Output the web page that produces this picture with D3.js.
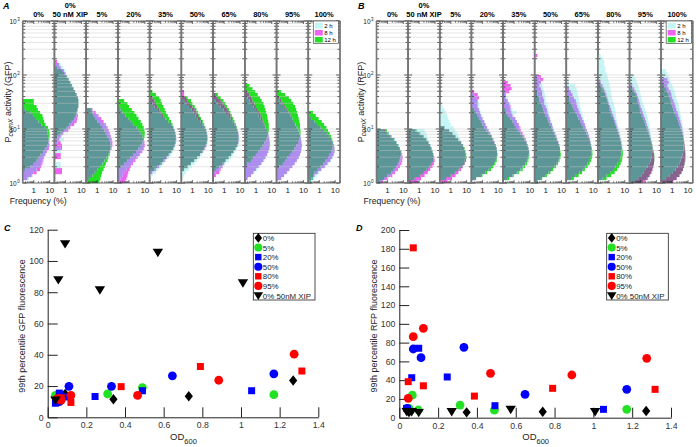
<!DOCTYPE html>
<html><head><meta charset="utf-8">
<script src="https://cdn.jsdelivr.net/npm/d3@7"></script>
<style>body{margin:0;background:#fff}svg{display:block}text{font-family:"Liberation Sans",Arial,sans-serif}</style>
</head><body><svg id="c" width="696" height="447"></svg>
<script>
// ---------- DATA ----------
const conditionTitles = [["0%"],["0%","50 nM XIP"],["5%"],["20%"],["35%"],["50%"],["65%"],["80%"],["95%"],["100%"]];
const timeLabels = ["2 h","8 h","12 h"];
const binsPerDecade = 18;           // histogram bins, starting at 10^0
const freqTickLabels = [1, 10];
const decadeExponents = [0, 1, 2, 3];

// GFP histograms (frequency %, one list per condition, bin 0 = 10^0)
const gfp2h = [
 [0,0.5,0.7,1,1.5,2.5,3,3.5,4,5,6.5,8,9.5,9,8.5,8,7.5,7,5,3,2,1.4,1,0.6,0.3],
 [0,0,0,0,0,0.5,0.5,0,0,0,0.5,0.5,0,0.3,0.8,0.6,0.8,1.2,1.6,2.5,3.5,4.5,5,5.5,6,6.5,6.5,6.8,6.2,5.2,4.2,3.4,2.8,2.2,1.8,1.4,1.1,1,0.7,0.5,0],
 [0.2,0.3,0.5,0.7,1,1.5,2.2,3,4,5,6,7.5,8.5,8.5,8,7,6,5,4,3,2,1.5,1,0.6,0.4],
 [0.2,0.3,0.4,0.5,0.7,1,1.4,2,3,4.5,6.5,8,9,9,8.5,7,5.5,4.2,3,2,1.3,0.9,0.6,0.4,0.3,0.2],
 [0,0,0.3,0.5,0.7,1,1.5,2.2,3.2,4.5,6,7.5,8.5,9.5,10,9.5,8.5,7.5,6,4.5,3,2,1.2,0.8,0.6,0.4,0.3,0.2],
 [0,0,0.3,0.4,0.6,0.9,1.4,2,3,4,5.5,7,8,9,9.5,9,8.5,7.5,6,4.5,3.2,2.2,1.6,1.2,0.9,0.6,0.4,0.3,0.2],
 [0,0,0.2,0.3,0.5,0.8,1.2,2,2.8,3.8,5,6.5,8,9,9.5,9,8,7,6,4.5,3.5,2.5,1.8,1.3,0.9,0.6,0.4,0.3,0.2],
 [0,0.3,0.5,0.8,1.2,1.8,2.5,3.5,4.5,5.5,6.5,7.5,8,8,7.5,7,6,5,4,3.2,2.5,2,1.5,1.2,0.9,0.7,0.5,0.4,0.3,0.2],
 [0.2,0.4,0.6,1,1.4,2,3,4,5,6,7,7.5,8,8,7.5,7,6,5,4,3.2,2.5,2,1.5,1.1,0.8,0.6,0.4,0.3,0.2],
 [0.3,0.5,0.7,1,1.5,2.5,3.8,5.5,7,8.5,9.5,9.5,8.5,7.5,6,4.5,3,2,1.2,0.8,0.5,0.3,0.2]
];
const gfp8h = [
 [0,0.4,0.8,1.5,2.5,3,3.5,4,4.5,5.5,7,9,10,9.5,8.5,8,7.5,7,5,3,2,1.4,1,0.6,0.3],
 [0,0,0,0.6,0.6,0,0,0,0.5,0.5,0,0.6,0.6,0.5,0.4,0.5,0.7,1.5,2,3.5,5,5.5,6,5.5,6,6.5,6.5,6.5,6,5,4,3.2,2.5,2,1.6,1.2,1,0.8,0.5,0.4,0.3],
 [0.2,0.3,0.5,0.7,1,1.5,2,2.8,3.8,5,6.5,8,9,9,8.5,7.5,6.5,5.5,4.5,3.5,2.5,1.8,1.2,0.8,0.5],
 [0.6,0.7,0.8,0.9,1.1,1.3,1.8,2.5,3.5,5,7,9,10,9.5,8.5,7,5.5,4.2,3,2,1.3,0.9,0.6,0.4,0.3,0.2],
 [0,0,0.2,0.3,0.5,0.8,1.2,1.8,2.5,3.5,5,6.5,8,9,9.5,9,8.5,7.5,6,4.5,3,2.2,1.5,1,0.8,0.6,0.5,0.4,0.3,0.2],
 [0,0,0,0.2,0.3,0.5,0.8,1.3,2,3,4.5,6,7.5,8.5,9,9,8.5,7.5,6.5,5,4,3,2.3,1.8,1.4,1,0.7,0.5,0.4,0.3,0.3],
 [0,0,0.3,0.5,0.6,0.8,1,1.2,1.8,2.8,4,5.5,7,8,8.5,8.5,8,7,6,5,4,3.2,2.5,2,1.5,1.1,0.8,0.6,0.4,0.3],
 [0,0.3,0.5,0.7,1,1.5,2.2,3,4,5,6,7,7.5,7.5,7,6.5,6,5,4.2,3.5,3,2.5,2,1.6,1.3,1,0.8,0.6,0.5,0.4,0.3,0.2],
 [0.2,0.4,0.6,0.9,1.3,2,2.8,3.8,5,6,7,7.5,8,7.5,7,6.5,5.5,4.5,3.8,3,2.5,2,1.6,1.2,0.9,0.7,0.5,0.4,0.3,0.2],
 [0.2,0.3,0.5,0.8,1.3,2.2,3.3,5,6.5,8,9,9,8.5,7.5,6,4.5,3,2,1.2,0.8,0.5,0.3,0.2]
];
const gfp12h = [
 [0,0,0,0,0.3,0.6,1,1.5,2,2.7,4,5,7,8,9.5,10,10,9.5,8,5.5,4.5,4,3.5,2.5,1.8,1.5,1,1],
 [0,0,0,0,0,0,0,0,0,0,0,0,0,0,0,0.3,0.5,0.8,1.2,1.8,2.5,3.5,4.5,5,5.5,6.5,6.5,6.5,6,5,4,3.2,2.5,2,1.6,1.2,0.8,0.6,0.3],
 [1.4,1.6,1.8,2,2.5,3,3.5,4.5,5,6,6.5,7,7,6.5,5.5,4.5,3.5,2.8,2,1.5,1,0.8,0.6,0.5,0.4],
 [0,0,0,0,0.2,0.3,0.5,0.8,1.2,1.8,2.8,4,5.5,7,8.5,9.5,10,9.5,8.5,7,5.5,4,3,2.2,1.5,1,0.8,0.5],
 [0,0,0,0.2,0.4,0.6,1,1.5,2.2,3.2,4.5,6,7.5,8.5,9,9,8.5,7.5,6.5,5.5,4.5,3.5,2.8,2.2,1.8,1.5,1.2,1,0.8,0.5,0.3],
 [0,0,0,0.2,0.3,0.5,0.8,1.3,2,3,4.2,5.5,7,8,8.5,8.5,8,7.5,6.5,5.5,4.5,3.5,2.8,2.3,1.8,1.4,1,0.8,0.5,0.2],
 [0,0,0,0.2,0.3,0.5,0.8,1.3,2,2.8,3.8,5,6.5,7.5,8,8,7.5,7,6.5,5.5,4.5,3.8,3,2.5,2,1.5,1.2,0.9,0.6,0.4],
 [0,0,0,0,0,0.2,0.3,0.5,0.7,1,1.4,2,2.7,3.5,4.5,5.5,6,6.5,6.5,6.5,6,5.5,5,4.5,4,3.5,3,2.3,1.8,1.3,0.9,0.6,0.4],
 [0,0,0,0,0.2,0.3,0.5,0.7,1,1.4,2,2.7,3.5,4.5,5.5,6,6.5,6.5,6,6,5.5,5,4.5,4,3.5,3,2.3,1.7,1.2,0.7,0.4],
 [0.3,0.4,0.4,0.5,0.8,1.2,1.8,2.5,3.5,4.5,5.5,6.5,7,7,6.5,5.5,4.5,3.5,2.8,2,1.4,0.9,0.6,0.4]
];

// RFP histograms
const rfp2h = [
 [0.4,0.8,1.5,2.5,3.5,4.5,5.5,6.5,7.5,7.5,7,6,5,3.8,2.8,1.8,1.2,0.6],
 [0.2,0.5,1,1.8,3,4.5,6,7.5,8,8,7.5,6.5,5.5,4.5,3.8,3.2,2.8,2.2],
 [0.2,0.5,1,1.8,3,4.5,6,7.5,8.5,8.5,8,7,6,5,4,3.2,2.5,2,1.5,1,0.8,0.7,0.6,0.5,0.4,0.3],
 [0,0.4,0.8,1.5,2.5,4,5.5,7,8,8.5,8.5,8,7,6,5,4,3.2,2.5,2,1.6,1.4,1.2,1,0.8,0.7,0.6,0.6,0.5,0.4,0.3,0.2],
 [0,0.4,0.9,1.6,2.8,4,5.5,7,8,9,9,8.5,7.5,6.5,5.5,4.2,3.2,2.5,2.2,1.8,1.5,1.2,1,1.4,0.8,0.5,0.6,0.4,0.4,0.3,0.3,0.2,0,0],
 [0.3,0.5,1,1.5,2.5,3.5,5,6.5,7.5,8,8,8,7.5,6.5,5.5,5,4.2,3.5,3,2.7,2.3,2,1.8,1.6,1.5,1.4,1.2,1,1,0.9,0.8,0.7,0.6,0.5,0.4,0.3],
 [0,0.4,0.8,1.4,2.2,3.2,4.3,5.5,6.5,7.5,8,8,7.8,7.2,6.5,5.8,5,4.2,3.6,3.2,2.8,2.5,2.2,1.9,1.7,1.5,1.4,1.3,1.2,1.1,1,0.9,0.7,0.3],
 [0,0.4,0.7,1.2,1.8,2.6,3.4,4.3,5.2,6,6.5,7,7,6.5,6,5.5,5,4.5,4,3.6,3.3,3,2.8,2.6,2.4,2.2,2,1.7,1.5,1.4,1.3,1.2,1.1,1,0.9,0.8,0.7,0.6,0.6,0.5,0.5,0.4,0.3],
 [0.4,0.7,1.1,1.6,2.2,2.8,3.5,4.2,4.8,5.2,5.5,5.6,5.5,5.3,5,4.7,4.4,4.1,3.8,3.5,3.2,2.9,2.6,2.3,2,1.7,1.4,1.2,1.1,1,0.9,0.8,0.7,0.6,0.5,0.4],
 [0.2,0.4,0.7,1.1,1.6,2.2,2.8,3.4,4,4.5,4.9,5.2,5.4,5.5,5.5,5.4,5.2,5,4.7,4.4,4.1,3.8,3.5,3.2,2.9,2.6,2.3,2,1.8,1.6,1.4,1.2,1,0.8,0.7,0.6,0.5,0.4]
];
const rfp8h = [
 [0.5,1,2,3,4.5,6,7.5,8.5,9,8.5,7.5,6,4.5,3.5,2.5,1.6,1,0.7],
 [0.8,1.3,2.2,3.5,5,7,8.5,9.5,9,8,7,6,5,3.8,2.8,1.8,1,0.6],
 [0.6,1.2,2,3,4.5,6,7.5,9,9.5,9,8,7,6,4.5,3,2,1.3,0.8,0.4,0.2],
 [0,0.4,0.8,1.5,2.5,4,5.5,7,8,8.5,8.5,8,7,6,5,4,3.2,2.5,2,1.6,1.3,1,0.8,0.7,0.6,0.5,0.5,0.5,0.6,0.5,0.3],
 [0,0.4,0.8,1.5,2.5,3.5,5,6.5,7.5,8.5,9,8.5,7.5,6.5,5.5,4.5,3.5,2.8,2.5,2,1.5,1.2,0.8,0.7,0.6,0.6,0.5,0.4,0.3,0.3,0.5,0.7,0.6,0.4],
 [0.3,0.5,1,1.5,2.5,3.5,5,6.5,7.5,8,8,8,7.5,6.5,5.5,4.8,4,3.2,2.8,2.5,2,1.8,1.5,1.3,1.2,1,0.8,0.8,0.7,0.6,0.6,0.5,0.4,0.5,0.7,0.5,0,0,0,0,0,0,0.3],
 [0,0.4,0.8,1.4,2.2,3.2,4.3,5.5,6.5,7.5,8,8,7.5,7,6.3,5.5,4.8,4,3.4,3,2.5,2,1.7,1.4,1.2,1,0.9,0.8,0.6,0.5,0.4,0.3,0.2],
 [0,0.4,0.7,1.2,1.8,2.6,3.4,4.3,5.2,6,6.3,6.5,6.3,6,5.5,5,4.5,3.9,3.4,3,2.6,2.2,1.9,1.6,1.4,1.2,1,0.9,0.8,0.7,0.6,0.5,0.4,0.3,0.2],
 [2,3,4,5,5.8,6.5,7,7.3,7.3,7,6.5,6,5.5,5,4.5,4.1,3.7,3.3,2.9,2.5,2.2,1.9,1.6,1.4,1.2,1,0.9,0.8,0.7,0.6,0.5,0.4,0.3,0.2],
 [1.2,2,3,4,4.8,5.5,6,6.3,6.5,6.5,6.4,6.2,6,5.8,5.5,5.2,4.9,4.5,4.1,3.7,3.3,2.9,2.5,2.2,1.8,1.6,1.4,1.2,1,0.9,0.8,0.6,0.5,0.6,0.5,0.2]
];
const rfp12h = [
 [0.3,0.6,1,1.8,2.5,3.5,4.5,5.5,6.5,7,7,6,5,3.8,2.8,1.8,1.2,0.9],
 [0.3,0.6,1.2,2,3.5,5,6.5,8,8.5,8,7,6,5,4,3,2,1.2,0.7],
 [0.2,0.5,1,2,3.5,5.5,7.5,9,10,9.5,8.5,7.5,6,4.5,3,2,1.3,0.8,0.4,0.2],
 [0,0.4,1,2,3.5,5,6.5,8,8.5,9,8.5,8,7,5.5,4.5,3.5,2.5,1.8,1.3,1,0.8,0.6,0.5,0.4,0.3,0.2,0.2],
 [0,0.5,1,2,3.5,5,6.5,8,9,9.5,9,8,7,6,4.5,3.5,2.5,1.8,1.3,1,0.8,0.6,0.4,0.3,0.3,0.2,0.2],
 [0.3,0.6,1.2,2,3,4.5,6,7.5,8.5,9,8.5,8,7,6,5,4.2,3.5,2.8,2.2,1.8,1.5,1.2,1,0.8,0.7,0.6,0.5,0.4,0.4,0.3,0.3,0.2,0.2],
 [0,0.6,1.2,2,3,4.5,6,7.5,8.5,9,9,8.5,7.5,6.5,5.5,4.6,3.8,3,2.4,1.9,1.5,1.2,1,0.8,0.6,0.5,0.4,0.3,0.3,0.2,0.2],
 [0,0.7,1.4,2.3,3.3,4.5,5.5,6.5,7,7.5,7.5,7,6.5,6,5.2,4.6,4,3.5,3,2.5,2.1,1.8,1.5,1.3,1.1,1,0.9,0.8,0.7,0.6,0.5,0.4,0.3,0.2],
 [1.5,2.5,3.5,4.5,5.5,6.3,7,7.5,7.5,7.3,6.8,6.2,5.6,5,4.4,3.8,3.3,2.8,2.4,2,1.7,1.4,1.2,1,0.9,0.8,0.7,0.6,0.6,0.5,0.4,0.3,0.2],
 [1,1.8,2.8,3.8,4.8,5.6,6.3,6.8,7,7,6.8,6.5,6.2,5.8,5.3,4.8,4.3,3.8,3.3,2.8,2.4,2,1.7,1.4,1.2,1,0.9,0.8,0.7,0.6,0.5,0.4,0.3,0.2]
];

// Scatter data (OD600, 99th percentile fluorescence)
const scatterGroups = ["0%","5%","20%","50%","80%","95%","0% 50nM XIP"];
const odTicks = [0,0.2,0.4,0.6,0.8,1,1.2,1.4];
const gfpTicks = [0,20,40,60,80,100,120];
const rfpTicks = [0,20,40,60,80,100,120,140,160,180,200];
const gfpOD = [
 [0.09,0.34,0.73,1.27],
 [0.04,0.31,0.49,1.17],
 [0.04,0.06,0.1,0.245,0.49,1.055],
 [0.06,0.065,0.11,0.33,0.645,1.17],
 [0.07,0.12,0.38,0.79,1.315],
 [0.05,0.07,0.12,0.465,0.885,1.275],
 [0.04,0.055,0.09,0.27,0.57,1.01]
];
const gfpVal = [
 [15,11.5,13.5,23.5],
 [14,15,19,14.5],
 [9,15.5,13,13.3,17,17],
 [10,14,19.8,19.8,26.5,27.8],
 [12.5,9.5,19.6,32.5,29.6],
 [12,11,14,14,23.7,40.4],
 [11,88,111,81.5,105.5,86]
];
const rfpOD = [
 [0.05,0.347,0.739,1.272],
 [0.05,0.067,0.098,0.313,0.49,1.172],
 [0.038,0.064,0.1,0.247,0.493,1.052],
 [0.04,0.072,0.112,0.333,0.648,1.172],
 [0.046,0.072,0.124,0.387,0.79,1.318],
 [0.046,0.072,0.124,0.47,0.889,1.275],
 [0.038,0.064,0.1,0.27,0.574,1.009]
];
const rfpVal = [
 [6,5.7,6.4,7.1],
 [10,24,8.2,13.5,8,8.9],
 [10,42.6,74,43.4,12.8,8.9],
 [10,73.2,64,75,24.9,30.2],
 [38.4,181,34,23,31.3,30.2],
 [20.6,86.3,95.2,47.3,45.5,63.3],
 [6.4,6.4,5.5,6.4,8.9,6.4]
];

// ---------- STYLE ----------
const FONT = '"Liberation Sans", Arial, sans-serif';
const histColors = {C:"#c6f5f5", M:"#f062f0", G:"#24e024", CM:"#ad8df0", CG:"#52c4a6", MG:"#87638d", CMG:"#5c9697"};
const legendSwatch = ["#c6f5f5","#f062f0","#24e024"];
const markerColors = ["#000000","#22e022","#0000ff","#0000ff","#ff0000","#ff0000","#000000"];
const markerShapes = ["diamond","circle","square","circle","square","circle","triangle"];

const svg = d3.select("#c");

// ---------- HISTOGRAM PANELS ----------
function histGroup(left, pw, top, bottom, s2, s8, s12, letter, letterX, fp, labelX, legendIdx) {
  const y = d3.scaleLog().domain([1, 1000]).range([bottom, top]);
  const minorVals = [];
  for (let k = 0; k < 3; k++) for (let j = 1; j <= 9; j++) minorVals.push(j * Math.pow(10, k));
  minorVals.push(1000);
  const xMinor = [0.2,0.3,0.4,0.5,0.6,0.7,0.8,0.9,1,2,3,4,5,6,7,8,9,10,20];

  conditionTitles.forEach((title, i) => {
    const x0 = left + i * pw;
    const x = d3.scaleLog().domain([0.2, 20]).range([x0, x0 + pw]).clamp(true);
    const g = svg.append("g");
    const c = s2[i], m = s8[i], gg = s12[i];
    const n = Math.max(c.length, m.length, gg.length);
    const segs = [];
    for (let b = 0; b < n; b++) {
      const vals = [["C", c[b] || 0], ["M", m[b] || 0], ["G", gg[b] || 0]]
        .filter(d => d[1] > 0.2).sort((a, b2) => b2[1] - a[1]);
      const yT = y(Math.pow(10, (b + 1) / binsPerDecade)), yB = y(Math.pow(10, b / binsPerDecade));
      for (let k = 0; k < vals.length; k++) {
        const hi = vals[k][1];
        const lo = k + 1 < vals.length ? vals[k + 1][1] : 0.2;
        const key = vals.slice(0, k + 1).map(d => d[0]).sort((a, b2) => "CMG".indexOf(a) - "CMG".indexOf(b2)).join("");
        segs.push({x1: x(lo), x2: x(hi), y1: yT, y2: yB, col: histColors[key]});
      }
    }
    g.selectAll("rect.bar").data(segs).join("rect")
      .attr("x", d => d.x1).attr("width", d => Math.max(0, d.x2 - d.x1))
      .attr("y", d => d.y1).attr("height", d => d.y2 - d.y1 + 0.15)
      .attr("fill", d => d.col);
    // grid
    g.selectAll("line.grid").data(minorVals).join("line")
      .attr("x1", x0).attr("x2", x0 + pw).attr("y1", d => y(d)).attr("y2", d => y(d))
      .attr("stroke", "#c8c8c8").attr("stroke-width", 0.6).attr("opacity", 0.75);
    // y ticks both sides
    const isMajor = d => Math.abs(Math.log10(d) - Math.round(Math.log10(d))) < 1e-9;
    g.selectAll("line.yt").data(minorVals).join("line")
      .attr("x1", x0).attr("x2", d => x0 + (isMajor(d) ? 4 : 2.5))
      .attr("y1", d => y(d)).attr("y2", d => y(d)).attr("stroke", "#222").attr("stroke-width", 0.7);
    g.selectAll("line.yt2").data(minorVals).join("line")
      .attr("x1", x0 + pw).attr("x2", d => x0 + pw - (isMajor(d) ? 4 : 2.5))
      .attr("y1", d => y(d)).attr("y2", d => y(d)).attr("stroke", "#222").attr("stroke-width", 0.7);
    // x ticks top & bottom
    g.selectAll("line.xt").data(xMinor).join("line")
      .attr("x1", d => x(d)).attr("x2", d => x(d)).attr("y1", bottom).attr("y2", d => bottom - (d === 1 || d === 10 ? 3 : 1.8))
      .attr("stroke", "#222").attr("stroke-width", 0.6);
    g.selectAll("line.xt2").data(xMinor).join("line")
      .attr("x1", d => x(d)).attr("x2", d => x(d)).attr("y1", top).attr("y2", d => top + (d === 1 || d === 10 ? 3 : 1.8))
      .attr("stroke", "#222").attr("stroke-width", 0.6);
    // frame
    g.append("rect").attr("x", x0).attr("y", top).attr("width", pw).attr("height", bottom - top)
      .attr("fill", "none").attr("stroke", "#444").attr("stroke-width", 0.7);
    [x0, x0 + pw].forEach(xx => g.append("line").attr("x1", xx).attr("x2", xx).attr("y1", top).attr("y2", bottom)
      .attr("stroke", "#777").attr("stroke-width", 1.6));
    // x tick labels
    g.selectAll("text.xl").data(freqTickLabels).join("text")
      .attr("x", d => x(d)).attr("y", bottom + 10).attr("text-anchor", "middle")
      .attr("font-size", 8).attr("fill", "#222").text(d => d);
    // title
    const cx = x0 + pw / 2;
    if (title.length === 1) {
      svg.append("text").attr("x", cx).attr("y", 16.5).attr("text-anchor", "middle")
        .attr("font-size", 7.5).attr("font-weight", "bold").text(title[0]);
    } else {
      svg.append("text").attr("x", cx).attr("y", 7.5).attr("text-anchor", "middle")
        .attr("font-size", 7.5).attr("font-weight", "bold").text(title[0]);
      svg.append("text").attr("x", cx).attr("y", 16.5).attr("text-anchor", "middle")
        .attr("font-size", 7.5).attr("font-weight", "bold").text(title[1]);
    }
    if (i === legendIdx) {
      const lg = svg.append("g");
      const lx = x0 + 5, ly = top;
      lg.append("rect").attr("x", lx).attr("y", ly).attr("width", x0 + pw - 1.5 - lx).attr("height", 22.5)
        .attr("fill", "#fff").attr("stroke", "#333").attr("stroke-width", 0.6);
      timeLabels.forEach((t, k) => {
        lg.append("rect").attr("x", lx + 1.5).attr("y", ly + 2 + k * 7).attr("width", 8).attr("height", 5.5)
          .attr("fill", legendSwatch[k]);
        lg.append("text").attr("x", lx + 11).attr("y", ly + 7 + k * 7).attr("font-size", 6).text(t);
      });
    }
  });
  // y tick labels
  decadeExponents.forEach(e => {
    const t = svg.append("text").attr("x", left - 6).attr("y", y(Math.pow(10, e)) + 2.5)
      .attr("text-anchor", "end").attr("font-size", 6.5).attr("fill", "#222");
    t.append("tspan").text("10");
    svg.append("text").attr("x", left - 5.5).attr("y", y(Math.pow(10, e)) - 0.5)
      .attr("font-size", 4.5).attr("fill", "#222").text(e);
  });
  // axis labels
  const yl = svg.append("text").attr("transform", `translate(${labelX},${102}) rotate(-90)`)
    .attr("text-anchor", "middle").attr("font-size", 9).attr("fill", "#222");
  yl.append("tspan").text("P");
  yl.append("tspan").attr("font-style", "italic").attr("font-size", 7).attr("dy", 1.5).text("comX");
  yl.append("tspan").attr("dy", -1.5).text(" activity (" + fp + ")");
  svg.append("text").attr("x", left - 13).attr("y", bottom + 21).attr("font-size", 8.7).attr("fill", "#222").text("Frequency (%)");
  svg.append("text").attr("x", letterX).attr("y", 9).attr("font-size", 9).attr("font-weight", "bold")
    .attr("font-style", "italic").text(letter);
}

histGroup(22.7, 31.73, 21, 183, gfp2h, gfp8h, gfp12h, "A", 3, "GFP", 11, 9);
histGroup(376.5, 31.63, 21, 183, rfp2h, rfp8h, rfp12h, "B", 358, "RFP", 364, 9);

// ---------- SCATTER PANELS ----------
function markerPath(shape, s) {
  switch (shape) {
    case "circle": return d3.symbol(d3.symbolCircle, Math.PI * 4.4 * 4.4 * s * s)();
    case "square": { const h = 3.5 * s; return `M${-h},${-h}H${h}V${h}H${-h}Z`; }
    case "diamond": return `M0,${-5.2*s}L${4.1*s},0L0,${5.2*s}L${-4.1*s},0Z`;
    case "triangle": return `M${-5.2*s},${-3.6*s}L${5.2*s},${-3.6*s}L0,${4.8*s}Z`;
  }
}

function scatterPanel(cfg) {
  const x = d3.scaleLinear().domain([0, 1.4]).range([cfg.x0, cfg.x1]);
  const y = d3.scaleLinear().domain([0, cfg.ymax]).range([cfg.y0, cfg.y1]);
  const g = svg.append("g");
  const fmt = d3.format("~g");
  const xa = g.append("g").attr("transform", `translate(0,${cfg.y0})`)
    .call(d3.axisBottom(x).tickValues(odTicks).tickSizeInner(-10).tickSizeOuter(0).tickPadding(5).tickFormat(fmt));
  const ya = g.append("g").attr("transform", `translate(${cfg.x0},0)`)
    .call(d3.axisLeft(y).tickValues(cfg.ticks).tickSizeInner(-10).tickSizeOuter(0).tickPadding(4).tickFormat(fmt));
  [xa, ya].forEach(a => {
    a.attr("font-family", FONT).attr("font-size", 8.7);
    a.selectAll("path.domain").attr("stroke", "#222").attr("stroke-width", 1);
    a.selectAll(".tick line").attr("stroke", "#222").attr("stroke-width", 1);
    a.selectAll(".tick text").attr("fill", "#333");
  });
  // points
  cfg.od.forEach((ods, gi) => {
    g.append("g").selectAll("path").data(ods.map((o, k) => [o, cfg.val[gi][k]])).join("path")
      .attr("d", markerPath(markerShapes[gi], 1))
      .attr("transform", d => `translate(${x(d[0])},${y(d[1])})`)
      .attr("fill", markerColors[gi]);
  });
  // legend
  const lg = svg.append("g");
  lg.append("rect").attr("x", cfg.lx).attr("y", cfg.ly).attr("width", cfg.lw).attr("height", 66.7)
    .attr("fill", "#fff").attr("stroke", "#222").attr("stroke-width", 0.8);
  scatterGroups.forEach((name, k) => {
    const ry = cfg.ly + 4.6 + k * 9.6;
    lg.append("path").attr("d", markerPath(markerShapes[k], 0.92))
      .attr("transform", `translate(${cfg.lx + 5},${ry})`).attr("fill", markerColors[k]);
    lg.append("text").attr("x", cfg.lx + 9.5).attr("y", ry + 3).attr("font-size", 7.9).attr("fill", "#222").text(name);
  });
  // labels
  svg.append("text").attr("transform", `translate(${cfg.ylx},${326}) rotate(-90)`)
    .attr("text-anchor", "middle").attr("font-size", 9).attr("fill", "#222").text(cfg.ylabel);
  const xl = svg.append("text").attr("x", (cfg.x0 + cfg.x1) / 2 + 0.5).attr("y", 440)
    .attr("text-anchor", "middle").attr("font-size", 9.5).attr("fill", "#222");
  xl.append("tspan").text("OD");
  xl.append("tspan").attr("font-size", 7.5).attr("dy", 4).text("600");
  svg.append("text").attr("x", cfg.letterX).attr("y", 231).attr("font-size", 9).attr("font-weight", "bold")
    .attr("font-style", "italic").text(cfg.letter);
}

scatterPanel({x0: 47.7, x1: 318.3, y0: 417.3, y1: 229.7, ymax: 120, ticks: gfpTicks, od: gfpOD, val: gfpVal,
  lx: 253.3, ly: 233.3, lw: 61.7, ylabel: "99th percentile GFP fluorescence", ylx: 25, letter: "C", letterX: 4});
scatterPanel({x0: 399.3, x1: 671, y0: 417.7, y1: 230, ymax: 200, ticks: rfpTicks, od: rfpOD, val: rfpVal,
  lx: 606.7, ly: 233.3, lw: 61.6, ylabel: "99th percentile RFP fluorescence", ylx: 377, letter: "D", letterX: 356});
</script>
</body></html>
